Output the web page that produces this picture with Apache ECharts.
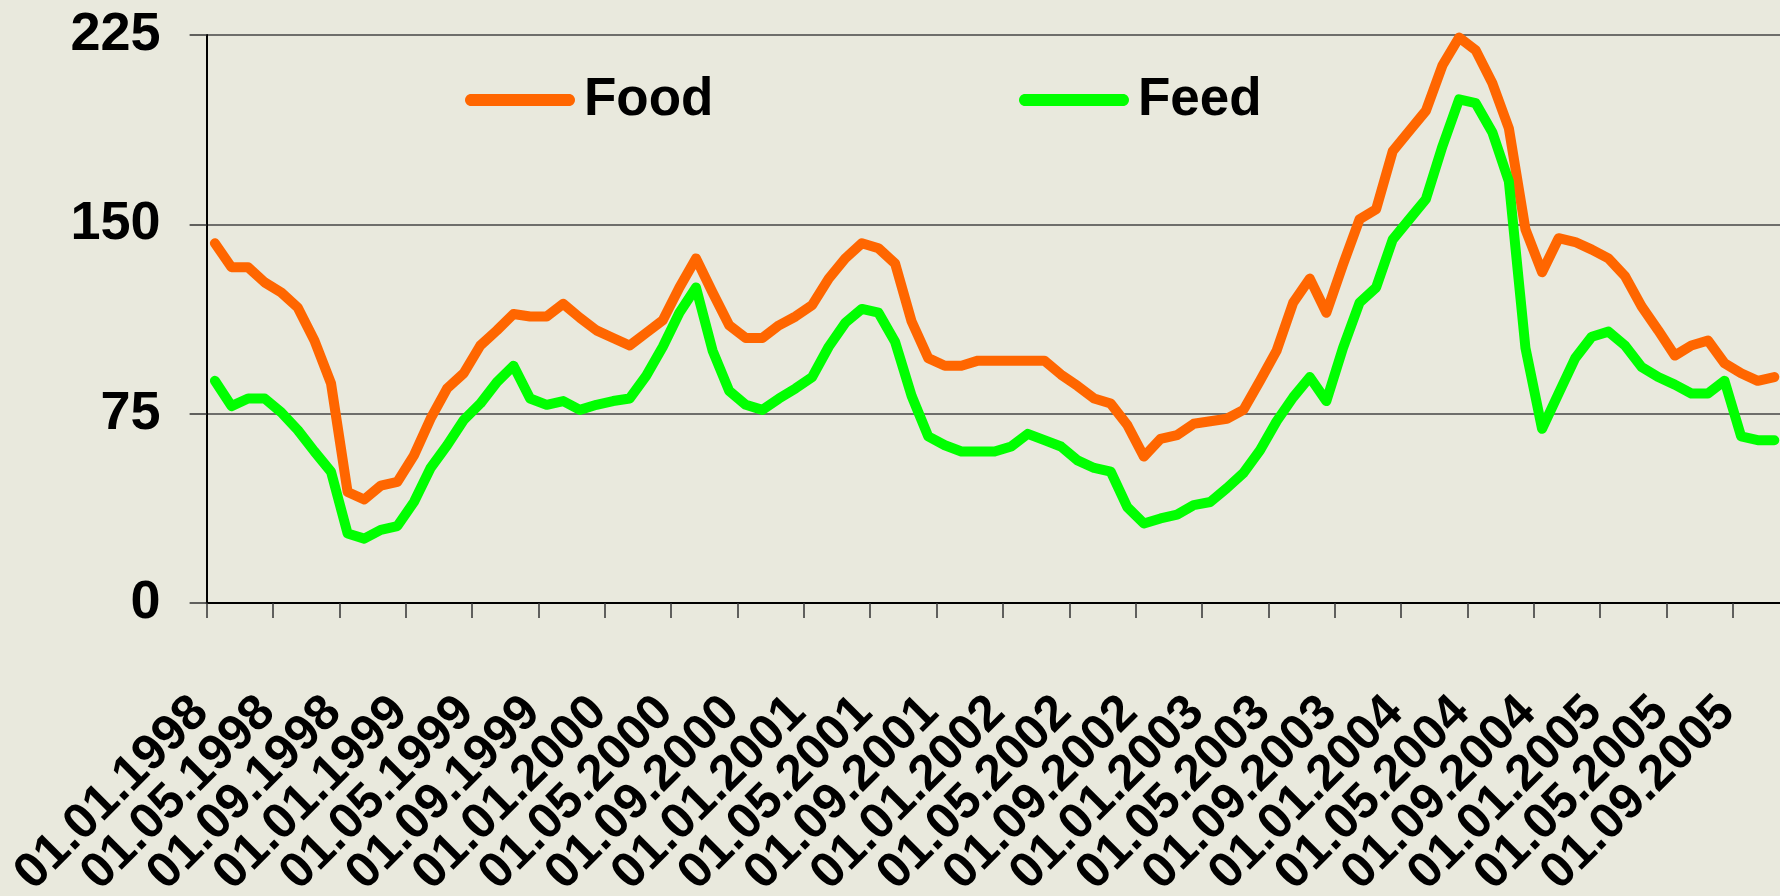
<!DOCTYPE html>
<html>
<head>
<meta charset="utf-8">
<script src="https://cdn.jsdelivr.net/npm/echarts@6/dist/echarts.min.js"></script>
<style>
html,body{margin:0;padding:0;background:#e9e9dd;}
#chart{width:1780px;height:896px;}
</style>
</head>
<body>
<div id="chart"></div>
<script>
const categories = [
"01.01.1998","01.02.1998","01.03.1998","01.04.1998","01.05.1998","01.06.1998","01.07.1998","01.08.1998","01.09.1998","01.10.1998","01.11.1998","01.12.1998",
"01.01.1999","01.02.1999","01.03.1999","01.04.1999","01.05.1999","01.06.1999","01.07.1999","01.08.1999","01.09.1999","01.10.1999","01.11.1999","01.12.1999",
"01.01.2000","01.02.2000","01.03.2000","01.04.2000","01.05.2000","01.06.2000","01.07.2000","01.08.2000","01.09.2000","01.10.2000","01.11.2000","01.12.2000",
"01.01.2001","01.02.2001","01.03.2001","01.04.2001","01.05.2001","01.06.2001","01.07.2001","01.08.2001","01.09.2001","01.10.2001","01.11.2001","01.12.2001",
"01.01.2002","01.02.2002","01.03.2002","01.04.2002","01.05.2002","01.06.2002","01.07.2002","01.08.2002","01.09.2002","01.10.2002","01.11.2002","01.12.2002",
"01.01.2003","01.02.2003","01.03.2003","01.04.2003","01.05.2003","01.06.2003","01.07.2003","01.08.2003","01.09.2003","01.10.2003","01.11.2003","01.12.2003",
"01.01.2004","01.02.2004","01.03.2004","01.04.2004","01.05.2004","01.06.2004","01.07.2004","01.08.2004","01.09.2004","01.10.2004","01.11.2004","01.12.2004",
"01.01.2005","01.02.2005","01.03.2005","01.04.2005","01.05.2005","01.06.2005","01.07.2005","01.08.2005","01.09.2005","01.10.2005","01.11.2005"
];

const food = [
142.5,133,133,127,123,117,104,87,44,41,46.5,48,
58.5,73,85,91,102,108,114.5,113.5,113.5,118.5,113,108,
105,102,107,112,125,136.5,123,110,105,105,110,113.5,
118,128.5,136.5,142.5,140.5,134.5,111.5,97,94,94,96,96,
96,96,96,90.5,86,81,79,70.5,58,65,66.5,71,
72,73,76.5,88,100,119,128.5,115,134,152,156,179,
187,195,213,224,219,206,188,148,131,144.5,143,140,
136.5,129.5,117.5,108,98,102,104,95,91,88,89.5
];

const feed = [
88,78,81,81,75.5,68.5,60,52,27.5,25.5,29,30.5,
40,53.5,62.5,72.5,79,87.5,94,81,78.5,80,76.5,78.5,
80,81,90,101.5,115,125,100,84,78.5,76.5,81,85,
89.5,101.5,111,116.5,115,103.5,82,66,62.5,60,60,60,
62,67,64.5,62,56.5,53.5,52,38,31.5,33.5,35,38.8,
40,45.5,51.5,60.5,72,81.5,89.5,80,101,119,125,144,
152,160,181,199.5,198,186.5,167,101,69,83,97,105.5,
107.5,102,93.5,89.5,86.5,83,83,88,66,64.5,64.5
];

const seriesNames = ["Food", "Feed"];
const yTicks = { min: 0, max: 225, step: 75 };
const labelEvery = 4;   // one tick label every 4 months

const FONT = "'Liberation Sans', Arial, sans-serif";
const pillIcon = 'path://M6 0 H104 C107.3 0 110 2.7 110 6 C110 9.3 107.3 12 104 12 H6 C2.7 12 0 9.3 0 6 C0 2.7 2.7 0 6 0 Z';

const chart = echarts.init(document.getElementById('chart'), null, { renderer: 'canvas' });

const legendCommon = {
  orient: 'horizontal',
  padding: 0,
  itemWidth: 110,
  itemHeight: 12,
  itemGap: 0,
  icon: pillIcon,
  textStyle: { fontFamily: FONT, fontWeight: 'bold', fontSize: 53, color: '#000', lineHeight: 60, padding: [0, 0, 0, 4] },
  selectedMode: false
};

const gridBox = { left: 206.6, top: 35, width: 1576, bottom: 293, containLabel: false, outerBoundsMode: 'none' };

const labelStyle = {
  show: true, rotate: 45, margin: 116,
  verticalAlign: 'bottom', lineHeight: 40,
  fontFamily: FONT, fontWeight: 'bold', fontSize: 50, color: '#000'
};

chart.setOption({
  backgroundColor: '#e9e9dd',
  animation: false,
  textStyle: { fontFamily: FONT },
  legend: [
    Object.assign({}, legendCommon, { left: 465, top: 70, data: [seriesNames[0]] }),
    Object.assign({}, legendCommon, { left: 1019, top: 70, data: [seriesNames[1]] })
  ],
  grid: [Object.assign({}, gridBox), Object.assign({}, gridBox)],
  xAxis: [
    {
      type: 'category', gridIndex: 0,
      data: categories,
      boundaryGap: true,
      axisLine: { show: true, lineStyle: { color: '#000', width: 2 } },
      axisTick: { show: true, interval: labelEvery - 1, length: 15, lineStyle: { color: '#333', width: 1.5 } },
      axisLabel: Object.assign({}, labelStyle, { interval: (i) => i % (labelEvery * 2) === 0 }),
      splitLine: { show: false }
    },
    {
      type: 'category', gridIndex: 1,
      data: categories,
      boundaryGap: true,
      axisLine: { show: false },
      axisTick: { show: false },
      axisLabel: Object.assign({}, labelStyle, { interval: (i) => i % (labelEvery * 2) === labelEvery }),
      splitLine: { show: false }
    }
  ],
  yAxis: [
    {
      type: 'value', gridIndex: 0,
      min: yTicks.min, max: yTicks.max, interval: yTicks.step,
      axisLine: { show: true, lineStyle: { color: '#000', width: 2 } },
      axisTick: { show: true, length: 17, lineStyle: { color: '#333', width: 1.5 } },
      axisLabel: { margin: 46, fontFamily: FONT, fontWeight: 'bold', fontSize: 54, color: '#000' },
      splitLine: { show: true, lineStyle: { color: '#444', width: 1.5 } }
    },
    {
      type: 'value', gridIndex: 1, show: false,
      min: yTicks.min, max: yTicks.max, interval: yTicks.step,
      splitLine: { show: false }
    }
  ],
  series: [
    { name: seriesNames[0], type: 'line', xAxisIndex: 0, yAxisIndex: 0, data: food, showSymbol: false, symbol: 'none',
      itemStyle: { color: '#ff6600' },
      lineStyle: { color: '#ff6600', width: 10, join: 'round', cap: 'round' } },
    { name: seriesNames[1], type: 'line', xAxisIndex: 0, yAxisIndex: 0, data: feed, showSymbol: false, symbol: 'none',
      itemStyle: { color: '#00ff00' },
      lineStyle: { color: '#00ff00', width: 10, join: 'round', cap: 'round' } }
  ]
});
</script>
</body>
</html>
